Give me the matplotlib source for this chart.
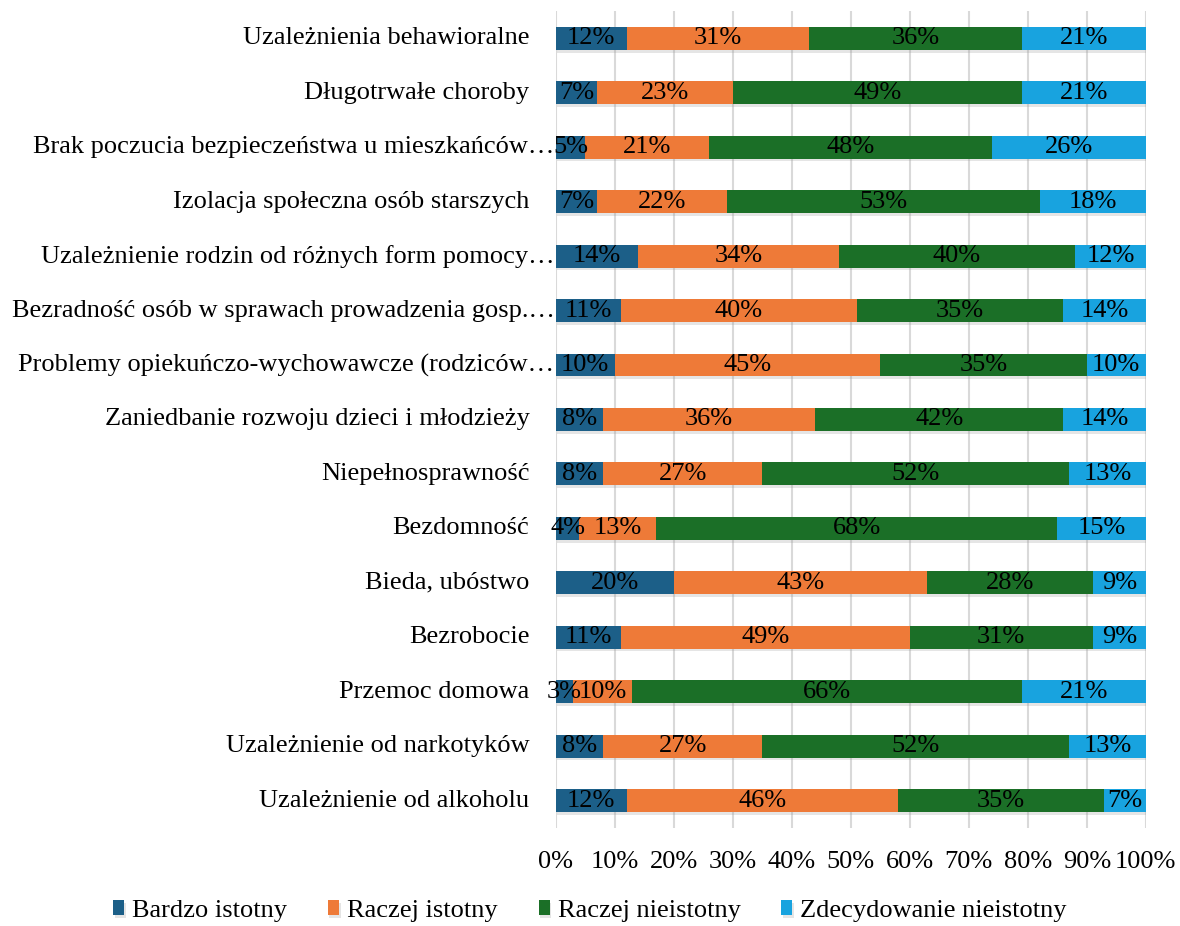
import matplotlib
matplotlib.use('Agg')
import matplotlib.pyplot as plt
import matplotlib.patheffects as pe
import matplotlib.transforms as mtransforms
import numpy as np

plt.rcParams['font.family'] = ['Liberation Serif', 'DejaVu Serif']

# categories from bottom to top
categories = [
    'Uzależnienie od alkoholu',
    'Uzależnienie od narkotyków',
    'Przemoc domowa',
    'Bezrobocie',
    'Bieda, ubóstwo',
    'Bezdomność',
    'Niepełnosprawność',
    'Zaniedbanie rozwoju dzieci i młodzieży',
    'Problemy opiekuńczo-wychowawcze (rodziców…',
    'Bezradność osób w sprawach prowadzenia gosp.…',
    'Uzależnienie rodzin od różnych form pomocy…',
    'Izolacja społeczna osób starszych',
    'Brak poczucia bezpieczeństwa u mieszkańców…',
    'Długotrwałe choroby',
    'Uzależnienia behawioralne',
]

bardzo_istotny = [12, 8, 3, 11, 20, 4, 8, 8, 10, 11, 14, 7, 5, 7, 12]
raczej_istotny = [46, 27, 10, 49, 43, 13, 27, 36, 45, 40, 34, 22, 21, 23, 31]
raczej_nieistotny = [35, 52, 66, 31, 28, 68, 52, 42, 35, 35, 40, 53, 48, 49, 36]
zdecydowanie_nieistotny = [7, 13, 21, 9, 9, 15, 13, 14, 10, 14, 12, 18, 26, 21, 21]

series_names = ['Bardzo istotny', 'Raczej istotny', 'Raczej nieistotny', 'Zdecydowanie nieistotny']
colors = ['#1c5f88', '#ee7a38', '#1b6f27', '#18a3df']
fs = 19

fig = plt.figure(figsize=(11.8, 9.26), dpi=100)
ax = fig.add_axes([0.471, 0.106, 0.5, 0.882])

y = np.arange(len(categories))
left = np.zeros(len(categories))
shadow = [pe.SimplePatchShadow(offset=(1, -2), shadow_rgbFace='#999999', alpha=0.25), pe.Normal()]
for name, vals, col in zip(series_names,
                           [bardzo_istotny, raczej_istotny, raczej_nieistotny, zdecydowanie_nieistotny],
                           colors):
    vals = np.array(vals, dtype=float)
    bars = ax.barh(y, vals, left=left, height=0.42, color=col, label=name, zorder=3)
    for b in bars:
        b.set_path_effects(shadow)
    for yi, l, v in zip(y, left, vals):
        ax.text(l + v / 2, yi, f'{int(v)}%', ha='center', va='center', fontsize=fs, color='black', zorder=5)
    left += vals

ax.set_xlim(0, 100)
ax.set_ylim(-0.5, len(categories) - 0.5)
ax.set_xticks(np.arange(0, 101, 10))
ax.set_xticklabels([f'{t}%' for t in range(0, 101, 10)], fontsize=fs)
ax.set_yticks(y)
ax.set_yticklabels([])
ax.tick_params(length=0)
ax.tick_params(axis='x', pad=17)
ax.grid(axis='x', color='#d9d9d9', linewidth=1.5, zorder=0)
for s in ax.spines.values():
    s.set_visible(False)

# category labels: truncated ones (with ellipsis) sit closer to the bars
base = ax.get_yaxis_transform()
for yi, cat in zip(y, categories):
    dx = -1 if cat.endswith('…') else -19
    tr = mtransforms.offset_copy(base, fig=fig, x=dx, y=0, units='points')
    ax.text(0, yi, cat, transform=tr, ha='right', va='center', fontsize=fs, zorder=6)

fig.legend(loc='center', bbox_to_anchor=(0.5, 0.016), ncol=4, frameon=False,
           fontsize=fs, handlelength=0.42, handleheight=0.5, handletextpad=0.3, columnspacing=1.55,
           borderpad=0)

fig.savefig('out.png', dpi=100)
